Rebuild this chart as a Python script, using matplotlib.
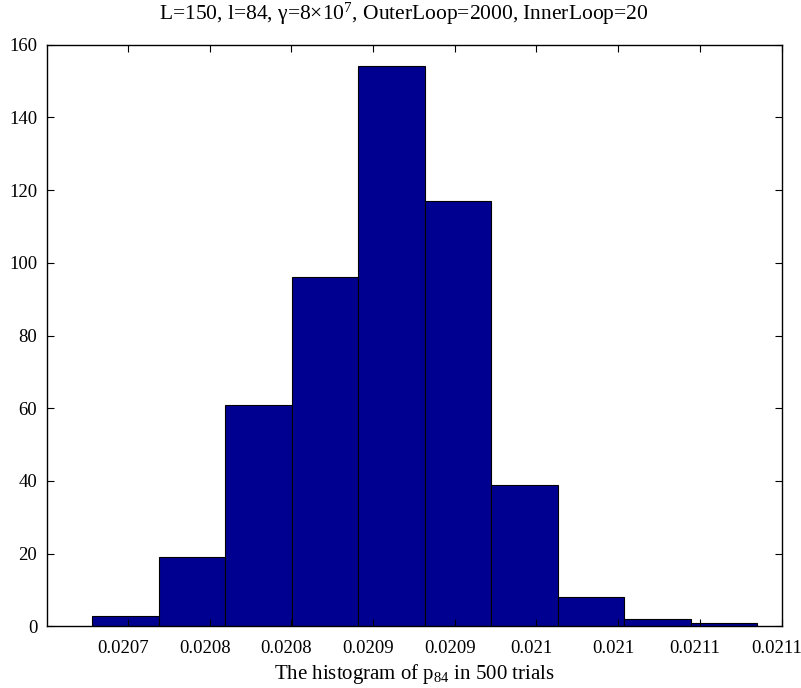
import matplotlib
matplotlib.use('Agg')
import matplotlib.pyplot as plt
import matplotlib.transforms as mtransforms

# histogram bins (centres) and counts
bin_centers = [0.0206984, 0.0207391, 0.0207798, 0.0208205, 0.0208613,
               0.0209020, 0.0209427, 0.0209834, 0.0210242, 0.0210649]
counts = [3, 19, 61, 96, 154, 117, 39, 8, 2, 1]
bin_width = 0.00004072

x_ticks = [0.02070, 0.02075, 0.02080, 0.02085, 0.02090,
           0.02095, 0.02100, 0.02105, 0.02110]
x_tick_labels = ['0.0207', '0.0208', '0.0208', '0.0209', '0.0209',
                 '0.021', '0.021', '0.0211', '0.0211']
y_ticks = [0, 20, 40, 60, 80, 100, 120, 140, 160]

plt.rcParams['font.family'] = ['Liberation Serif', 'DejaVu Serif']
plt.rcParams['mathtext.fontset'] = 'custom'
plt.rcParams['mathtext.rm'] = 'Liberation Serif'
plt.rcParams['mathtext.it'] = 'Liberation Serif:italic'
plt.rcParams['mathtext.default'] = 'rm'

fig = plt.figure(figsize=(8.01, 6.88), dpi=100)
ax = fig.add_axes([0.0587, 0.0894, 0.9176, 0.8459])

ax.bar(bin_centers, counts, width=bin_width, color='#000090',
       edgecolor='black', linewidth=0.8)

ax.set_xlim(0.0206505, 0.0211003)
ax.set_ylim(0, 160)
ax.set_xticks(x_ticks)
ax.set_xticklabels(x_tick_labels)
ax.set_yticks(y_ticks)
ax.tick_params(direction='in', top=True, right=True, length=5, width=0.8,
               labelsize=13.5, pad=7)
ax.tick_params(axis='x', pad=10)
for s in ax.spines.values():
    s.set_linewidth(1.0)

# MATLAB puts the x labels a few pixels left of their ticks
shift = mtransforms.ScaledTranslation(-5 / 100, 0, fig.dpi_scale_trans)
for lab in ax.get_xticklabels():
    lab.set_transform(lab.get_transform() + shift)

ax.set_title(r'L=150, l=84, γ=8×10$^{7}$, OuterLoop=2000, InnerLoop=20',
             fontsize=15.5, pad=18, x=0.485)
ax.set_xlabel(r'The histogram of p$_{84}$ in 500 trials', fontsize=15,
              labelpad=3)

fig.savefig('out.png', dpi=100)
